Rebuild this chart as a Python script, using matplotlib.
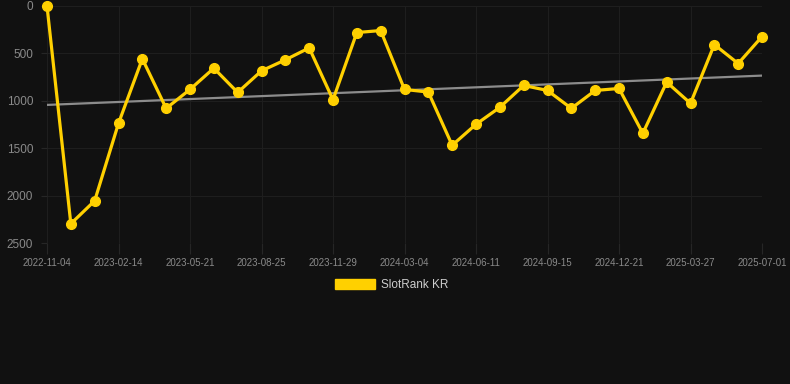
import matplotlib
matplotlib.use("Agg")
import matplotlib.pyplot as plt
import numpy as np

# ---- data ----
tick_labels = ["2022-11-04", "2023-02-14", "2023-05-21", "2023-08-25", "2023-11-29",
               "2024-03-04", "2024-06-11", "2024-09-15", "2024-12-21", "2025-03-27",
               "2025-07-01"]
ranks = [0, 2297, 2055, 1238, 557, 1080, 880, 656, 912, 684, 568, 442, 989, 280, 259,
         880, 908, 1469, 1248, 1069, 838, 891, 1080, 891, 870, 1343, 803, 1027, 407, 607, 323]
series_name = "SlotRank KR"

# ---- style ----
BG = "#111111"
GRID = "#1e1e1e"
TICKMARK = "#262626"
TICK = "#8a8a8a"
GOLD = "#FFD000"

plt.rcParams['font.family'] = ['Liberation Sans', 'DejaVu Sans']

fig = plt.figure(figsize=(7.9, 3.84), dpi=100, facecolor=BG)
ax = fig.add_axes([47/790, 1 - 243/384, 715/790, 237/384], facecolor=BG)

x = np.arange(len(ranks))
y = np.array(ranks, dtype=float)

# trend line (linear regression)
coef = np.polyfit(x, y, 1)
ax.plot(x, np.polyval(coef, x), color="#8c8c8c", lw=1.6, zorder=2, solid_capstyle="butt")

ax.plot(x, y, color=GOLD, lw=2.3, marker="o", markersize=7, markerfacecolor=GOLD,
        markeredgecolor=GOLD, clip_on=False, zorder=3, label=series_name)

ax.set_xlim(0, len(ranks) - 1)
ax.set_ylim(2500, 0)
ax.set_yticks([0, 500, 1000, 1500, 2000, 2500])
ax.set_xticks(x[::3])
ax.set_xticklabels(tick_labels)

ax.grid(True, color=GRID, lw=0.8)
ax.set_axisbelow(True)
for s in ax.spines.values():
    s.set_visible(False)
ax.tick_params(axis="x", colors=TICKMARK, length=8, width=0.8, labelcolor=TICK, labelsize=7, pad=3)
ax.tick_params(axis="y", colors=TICKMARK, length=4, width=0.8, labelcolor=TICK, labelsize=8.5, pad=6)

handle = plt.Rectangle((0, 0), 1, 1, facecolor=GOLD, edgecolor=GOLD)
leg = fig.legend([handle], [series_name], loc="center", bbox_to_anchor=(392/790, 1 - 285/384),
                 frameon=False, fontsize=8.5, handlelength=3.4, handleheight=0.95,
                 handletextpad=0.5, labelcolor="#cccccc")

fig.savefig("out.png", dpi=100, facecolor=BG)
